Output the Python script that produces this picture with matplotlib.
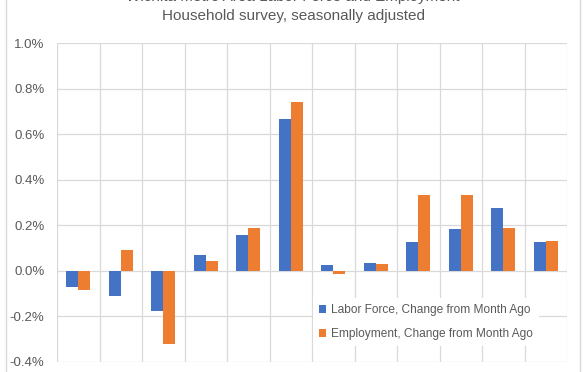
import numpy as np
import matplotlib.pyplot as plt
from matplotlib.lines import Line2D
from matplotlib.ticker import FuncFormatter, MultipleLocator

# -------------------------------
# DATA (percent change from month ago)
# -------------------------------
months = list(range(1, 13))
labor_force = [-0.069, -0.110, -0.178, 0.070, 0.159, 0.667, 0.026, 0.035, 0.127, 0.184, 0.276, 0.127]
employment  = [-0.082, 0.092, -0.319, 0.044, 0.189, 0.743, -0.012, 0.028, 0.333, 0.333, 0.189, 0.132]

title1 = "Wichita Metro Area Labor Force and Employment"
title2 = "Household survey, seasonally adjusted"
series_names = ["Labor Force, Change from Month Ago", "Employment, Change from Month Ago"]

BLUE = "#4472C4"
ORANGE = "#ED7D31"
GRID = "#D9D9D9"
TXT = "#595959"

plt.rcParams["font.family"] = ["Liberation Sans", "DejaVu Sans"]

# -------------------------------
# PLOT
# -------------------------------
fig = plt.figure(figsize=(5.86, 3.72), dpi=100)
ax = fig.add_axes([57 / 586, 10 / 372, 510 / 586, 319 / 372])

x = np.arange(len(months))
w = 0.285
ax.bar(x - w / 2, labor_force, w, color=BLUE, label=series_names[0], zorder=3)
ax.bar(x + w / 2, employment, w, color=ORANGE, label=series_names[1], zorder=3)

ax.set_xlim(-0.5, len(months) - 0.5)
ax.set_ylim(-0.4, 1.0)
ax.yaxis.set_major_locator(MultipleLocator(0.2))
ax.yaxis.set_major_formatter(FuncFormatter(lambda v, p: f"{v:.1f}%"))
ax.set_xticks(np.arange(-0.5, len(months), 1.0))
ax.set_xticklabels([])
ax.tick_params(axis="both", length=0, labelsize=9.5, labelcolor=TXT)
ax.tick_params(axis="y", pad=9)
ax.grid(True, color=GRID, linewidth=0.9, zorder=0)
for s in ax.spines.values():
    s.set_visible(False)

leg = ax.legend(loc="lower left", bbox_to_anchor=(0.49, 0.03), frameon=True,
                fancybox=False, edgecolor="none", facecolor="white", framealpha=1,
                fontsize=8.6, handlelength=0.6, handleheight=0.6, handletextpad=0.4,
                labelspacing=1.05, borderpad=0.5)
for t in leg.get_texts():
    t.set_color(TXT)

fig.text(0.5, 1 + 3 / 372, title1, ha="center", va="center", fontsize=11, color=TXT)
fig.text(0.5, 1 - 16 / 372, title2, ha="center", va="center", fontsize=11, color=TXT)

# outer chart border
fig.add_artist(Line2D([5.5 / 586, 5.5 / 586], [0, 1], color=GRID, linewidth=1))
fig.add_artist(Line2D([579.5 / 586, 579.5 / 586], [0, 1], color=GRID, linewidth=1))

plt.savefig("out.png", dpi=100)
